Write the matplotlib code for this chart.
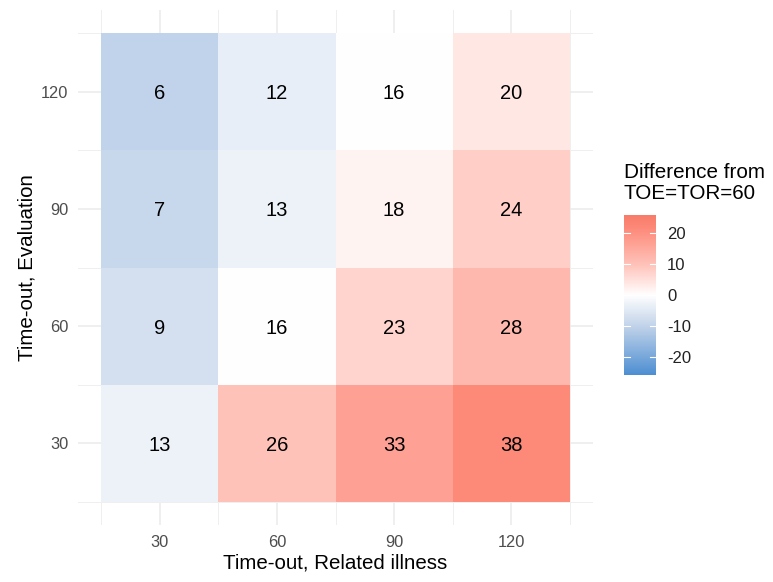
import numpy as np
import matplotlib
matplotlib.use("Agg")
import matplotlib.pyplot as plt
from matplotlib.colors import LinearSegmentedColormap, Normalize

plt.rcParams['font.family'] = ['Liberation Sans', 'DejaVu Sans']

# Time-out settings and results
tor_values = [30, 60, 90, 120]          # Time-out, Related illness (x)
toe_values = [30, 60, 90, 120]          # Time-out, Evaluation (y)
# rows follow toe_values (30, 60, 90, 120), columns follow tor_values
cell_values = np.array([
    [13, 26, 33, 38],
    [9, 16, 23, 28],
    [7, 13, 18, 24],
    [6, 12, 16, 20],
])
reference_value = 16                     # value at TOE=TOR=60
legend_ticks = [-20, -10, 0, 10, 20]
fill_limit = 26

diff = cell_values - reference_value

cmap = LinearSegmentedColormap.from_list(
    "div",
    [(0.0, "#4E8FD2"), (0.31, "#C3D4EA"), (0.5, "#FFFFFF"),
     (0.69, "#FFC3BA"), (0.92, "#FD8A7A"), (1.0, "#F97C6A")])
norm = Normalize(-fill_limit, fill_limit)

W, H = 773, 582
fig = plt.figure(figsize=(W / 100, H / 100), dpi=100)

def px_axes(x0, y0, x1, y1):
    return fig.add_axes([x0 / W, 1 - y1 / H, (x1 - x0) / W, (y1 - y0) / H])

ax = px_axes(78, 10, 593, 525)
step = 30
xe = np.array(tor_values[0] - step / 2 + step * np.arange(len(tor_values) + 1))
ye = np.array(toe_values[0] - step / 2 + step * np.arange(len(toe_values) + 1))
ax.pcolormesh(xe, ye, diff, cmap=cmap, norm=norm, zorder=2)

for i, yv in enumerate(toe_values):
    for j, xv in enumerate(tor_values):
        ax.text(xv, yv, str(cell_values[i, j]), ha="center", va="center_baseline",
                fontsize=14.5, color="black", zorder=3)

pad = (xe[-1] - xe[0]) * 0.05
ax.set_xlim(xe[0] - pad, xe[-1] + pad)
ax.set_ylim(ye[0] - pad, ye[-1] + pad)
ax.set_xticks(tor_values)
ax.set_yticks(toe_values)
ax.set_xticks(xe, minor=True)
ax.set_yticks(ye, minor=True)
ax.grid(which="major", color="#EBEBEB", lw=1.1, zorder=0)
ax.grid(which="minor", color="#EFEFEF", lw=0.7, zorder=0)
ax.set_axisbelow(True)
ax.tick_params(which="both", length=0, labelsize=11.8, labelcolor="#4D4D4D")
ax.tick_params(axis="x", pad=7)
ax.tick_params(axis="y", pad=7)
for s in ax.spines.values():
    s.set_visible(False)
ax.set_xlabel("Time-out, Related illness", fontsize=14.8, labelpad=3)
ax.set_ylabel("Time-out, Evaluation", fontsize=14.8, labelpad=3)

# Colour bar legend
cax = px_axes(624, 215, 656, 375)
grad = np.linspace(-fill_limit, fill_limit, 300).reshape(-1, 1)
cax.imshow(grad, cmap=cmap, norm=norm, origin="lower", aspect="auto",
           extent=[0, 1, -fill_limit, fill_limit])
for t in legend_ticks:
    cax.plot([0, 0.2], [t, t], color="white", lw=0.8)
    cax.plot([0.8, 1], [t, t], color="white", lw=0.8)
cax.set_xlim(0, 1)
cax.set_ylim(-fill_limit, fill_limit)
cax.set_xticks([])
cax.yaxis.tick_right()
cax.set_yticks(legend_ticks)
cax.set_yticklabels([str(t) for t in legend_ticks])
cax.tick_params(length=0, labelsize=12, labelcolor="#222222", pad=8)
for s in cax.spines.values():
    s.set_visible(False)
fig.text(624 / W, 1 - 163 / H, "Difference from\nTOE=TOR=60", ha="left", va="top",
         fontsize=14.9, linespacing=1.15)

fig.savefig("out.png", dpi=100)
